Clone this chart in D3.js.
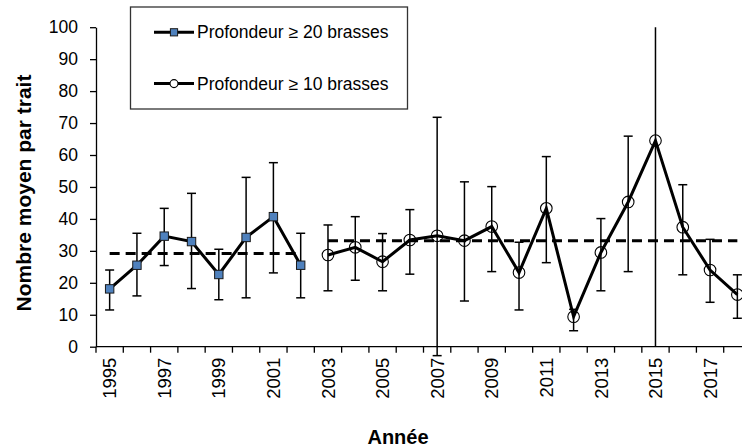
<!DOCTYPE html>
<html>
<head>
<meta charset="utf-8">
<script src="https://cdn.jsdelivr.net/npm/d3@7"></script>
<style>
  body { margin: 0; background: #fff; }
  svg { display: block; font-family: "Liberation Sans", Arial, sans-serif; }
  .axis path, .axis line { stroke: #000; stroke-width: 1.3; }
  .axis text { font-size: 17.5px; fill: #000; }
</style>
</head>
<body>
<div id="chart"></div>
<script>
// data
var years1 = [1995, 1996, 1997, 1998, 1999, 2000, 2001, 2002],
mean1 = [18.1, 25.5, 34.6, 32.9, 22.6, 34.2, 40.7, 25.5],
lo1 = [11.5, 15.9, 25.4, 18.2, 14.7, 15.3, 23.1, 15.3],
hi1 = [24.0, 35.5, 43.3, 48.0, 30.5, 53.0, 57.6, 35.5],
avg1 = 29.2;

var years2 = [2003, 2004, 2005, 2006, 2007, 2008, 2009, 2010, 2011, 2012, 2013, 2014, 2015, 2016, 2017, 2018],
mean2 = [28.7, 31.1, 26.6, 33.4, 34.7, 33.2, 37.6, 23.2, 43.3, 9.4, 29.5, 45.3, 64.5, 37.4, 24.0, 16.3],
lo2 = [17.5, 20.8, 17.5, 22.7, -2.8, 14.3, 23.5, 11.5, 26.3, 5.0, 17.5, 23.5, 0, 22.5, 13.9, 8.9],
hi2 = [38.1, 40.7, 35.4, 42.9, 71.8, 51.6, 50.1, 32.7, 59.5, 11.7, 40.1, 65.9, 100, 50.7, 33.6, 22.5],
avg2 = 33.2;

// bars cut by the axis limits, drawn without caps
var capless = [2015];

var allYears = years1.concat(years2),
yTicks = [0, 10, 20, 30, 40, 50, 60, 70, 80, 90, 100],
labelYears = allYears.filter(function(d){ return d % 2 === 1; });

var legendLabels = ["Profondeur \u2265 20 brasses", "Profondeur \u2265 10 brasses"];

var width = 742, height = 448;

var x = d3.scaleBand().domain(allYears).range([96, 751]).padding(0);
var y = d3.scaleLinear().domain([0, 100]).range([346.7, 27.2]);
var cx = function(d){ return x(d) + x.bandwidth() / 2; };

var svg = d3.select("#chart").append("svg")
.attr("width", width)
.attr("height", height);

// y axis
var yAxis = svg.append("g")
.attr("class", "axis")
.attr("transform", "translate(96,0)")
.call(d3.axisLeft(y).tickValues(yTicks).tickSize(6).tickSizeOuter(0).tickPadding(12));

// x axis: line + ticks at category boundaries + rotated labels
var xAxis = svg.append("g").attr("class", "axis");
xAxis.append("line")
.attr("x1", 96).attr("x2", width)
.attr("y1", y(0)).attr("y2", y(0));
xAxis.selectAll(".xtick")
.data(allYears)
.enter()
.append("line")
.attr("class", "xtick")
.attr("x1", function(d){ return x(d); })
.attr("x2", function(d){ return x(d); })
.attr("y1", y(0)).attr("y2", y(0) + 6);
xAxis.selectAll(".xlabel")
.data(labelYears)
.enter()
.append("text")
.attr("class", "xlabel")
.attr("transform", function(d){ return "translate(" + cx(d) + "," + (y(0) + 11) + ") rotate(-90)"; })
.attr("text-anchor", "end")
.attr("dy", "0.36em")
.style("font-size", "18.5px")
.text(function(d){ return d; });

// axis titles
svg.append("text")
.attr("transform", "translate(31,193) rotate(-90)")
.attr("text-anchor", "middle")
.style("font-size", "21px")
.style("font-weight", "bold")
.text("Nombre moyen par trait");

svg.append("text")
.attr("x", 398).attr("y", 444)
.attr("text-anchor", "middle")
.style("font-size", "20px")
.style("font-weight", "bold")
.text("Ann\u00e9e");

// mean lines
var dashed = [[years1, avg1], [years2, avg2]];
svg.selectAll(".avg")
.data(dashed)
.enter()
.append("line")
.attr("class", "avg")
.attr("x1", function(d){ return cx(d[0][0]); })
.attr("x2", function(d){ return cx(d[0][d[0].length - 1]); })
.attr("y1", function(d){ return y(d[1]); })
.attr("y2", function(d){ return y(d[1]); })
.attr("stroke", "#000")
.attr("stroke-width", 3)
.attr("stroke-dasharray", "10,6");

// error bars
function errorBars(years, lo, hi){
  var g = svg.append("g").attr("class", "errors");
  var rows = years.map(function(d, i){ return {year: d, lo: lo[i], hi: hi[i]}; });
  g.selectAll(".bar")
  .data(rows)
  .enter()
  .append("line")
  .attr("x1", function(d){ return cx(d.year); })
  .attr("x2", function(d){ return cx(d.year); })
  .attr("y1", function(d){ return y(d.lo); })
  .attr("y2", function(d){ return y(d.hi); })
  .attr("stroke", "#000")
  .attr("stroke-width", 1.5);
  var caps = [];
  rows.forEach(function(d){
    if (capless.indexOf(d.year) === -1) {
      caps.push({year: d.year, v: d.lo});
      caps.push({year: d.year, v: d.hi});
    }
  });
  g.selectAll(".cap")
  .data(caps)
  .enter()
  .append("line")
  .attr("x1", function(d){ return cx(d.year) - 4.5; })
  .attr("x2", function(d){ return cx(d.year) + 4.5; })
  .attr("y1", function(d){ return y(d.v); })
  .attr("y2", function(d){ return y(d.v); })
  .attr("stroke", "#000")
  .attr("stroke-width", 1.5);
}
errorBars(years1, lo1, hi1);
errorBars(years2, lo2, hi2);

// series lines
var line = d3.line()
.x(function(d){ return cx(d[0]); })
.y(function(d){ return y(d[1]); });

svg.append("path")
.datum(years1.map(function(d, i){ return [d, mean1[i]]; }))
.attr("d", line)
.attr("fill", "none")
.attr("stroke", "#000")
.attr("stroke-width", 3);

svg.append("path")
.datum(years2.map(function(d, i){ return [d, mean2[i]]; }))
.attr("d", line)
.attr("fill", "none")
.attr("stroke", "#000")
.attr("stroke-width", 3);

// markers
svg.selectAll(".sq")
.data(years1.map(function(d, i){ return [d, mean1[i]]; }))
.enter()
.append("rect")
.attr("class", "sq")
.attr("x", function(d){ return cx(d[0]) - 4.2; })
.attr("y", function(d){ return y(d[1]) - 4.2; })
.attr("width", 8.4).attr("height", 8.4)
.attr("fill", "#4F81BD")
.attr("stroke", "#1a1a1a")
.attr("stroke-width", 1);

svg.selectAll(".ci")
.data(years2.map(function(d, i){ return [d, mean2[i]]; }))
.enter()
.append("circle")
.attr("class", "ci")
.attr("cx", function(d){ return cx(d[0]); })
.attr("cy", function(d){ return y(d[1]); })
.attr("r", 5.8)
.attr("fill", "none")
.attr("stroke", "#000")
.attr("stroke-width", 1.1);

// legend
var legend = svg.append("g").attr("class", "legend");
legend.append("rect")
.attr("x", 130.5).attr("y", 7)
.attr("width", 277).attr("height", 102)
.attr("fill", "#fff")
.attr("stroke", "#333")
.attr("stroke-width", 1.3);

var rowsY = [32.3, 83.6];
legend.selectAll(".lline")
.data(rowsY)
.enter()
.append("line")
.attr("x1", 154).attr("x2", 194)
.attr("y1", function(d){ return d; })
.attr("y2", function(d){ return d; })
.attr("stroke", "#000")
.attr("stroke-width", 3);

legend.append("rect")
.attr("x", 174 - 3.6).attr("y", rowsY[0] - 3.6)
.attr("width", 7.2).attr("height", 7.2)
.attr("fill", "#4F81BD")
.attr("stroke", "#1a1a1a")
.attr("stroke-width", 1);

legend.append("circle")
.attr("cx", 174).attr("cy", rowsY[1])
.attr("r", 4)
.attr("fill", "#fff")
.attr("stroke", "#000")
.attr("stroke-width", 1.1);

legend.selectAll(".ltext")
.data(legendLabels)
.enter()
.append("text")
.attr("x", 197)
.attr("y", function(d, i){ return rowsY[i] + 6; })
.style("font-size", "17.5px")
.text(function(d){ return d; });
</script>
</body>
</html>
